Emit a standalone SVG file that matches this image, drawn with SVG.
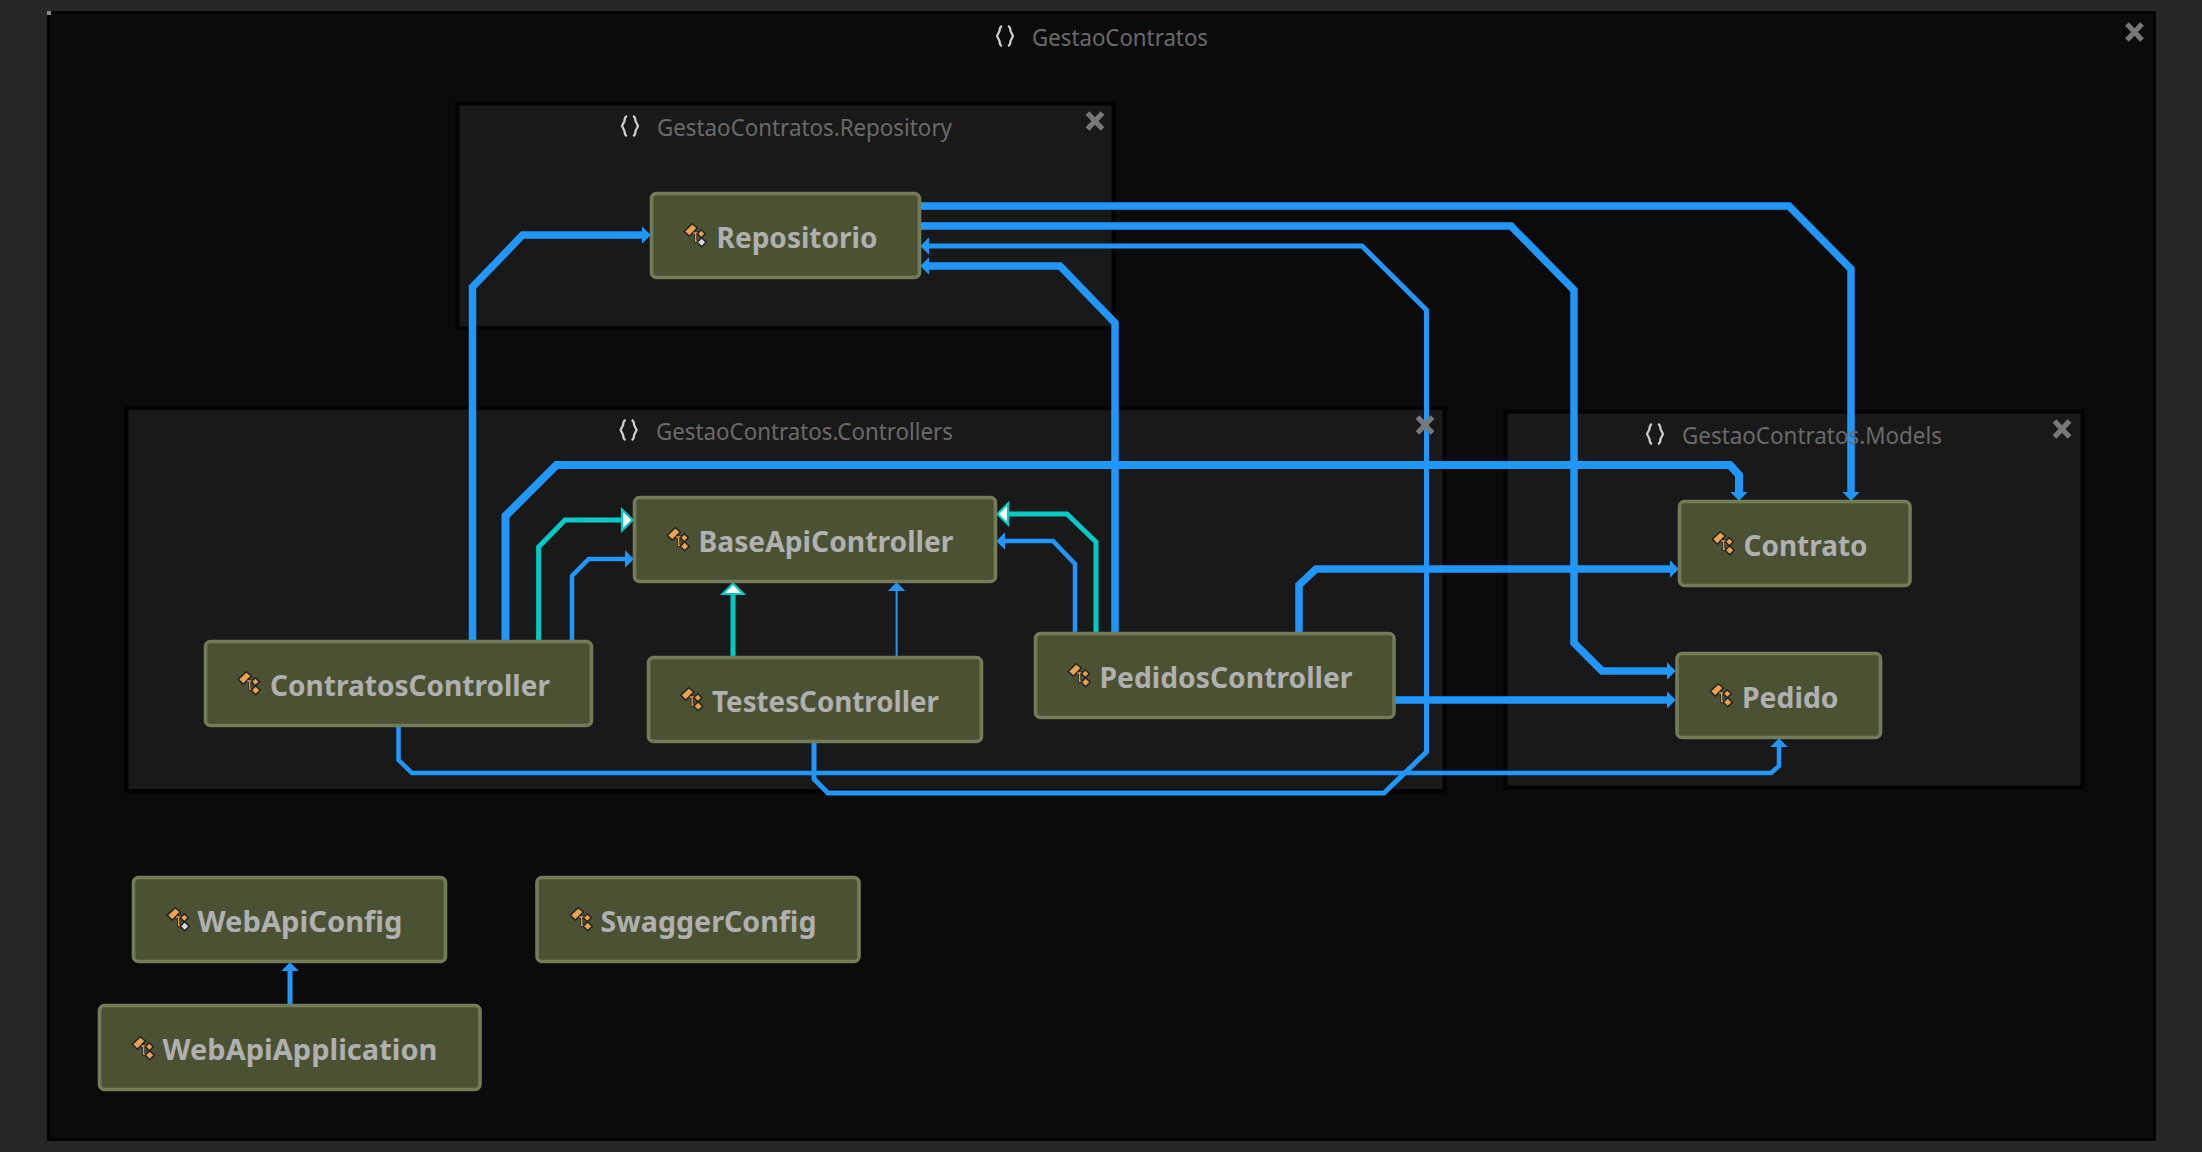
<svg xmlns="http://www.w3.org/2000/svg" width="2202" height="1152" viewBox="0 0 2202 1152">
<style>
.grp{fill:#191919;stroke:#030303;stroke-width:4}
.gl{font-family:"Noto Sans","Open Sans",sans-serif;font-size:24px;fill:#6a6a6a}
.brace{fill:none;stroke:#d0d0d0;stroke-width:2.2}
.x{fill:none;stroke:#787878;stroke-width:5.200}
.node rect{fill:#4b5233;stroke:#727c59;stroke-width:3.600}
.node text{font-family:"Noto Sans","Open Sans",sans-serif;font-size:28px;font-weight:700;fill:#b0b0b0}
.w{fill:none;stroke:#2196fb;stroke-linejoin:miter;marker-end:url(#b)}
.t{fill:none;stroke:#00c9c6;stroke-width:5;marker-end:url(#w)}
.or{fill:#eaa24e;stroke:#222;stroke-width:1.5}
.gy{fill:#d8d8d8;stroke:#222;stroke-width:1.5}
</style>
<defs>
<marker id="b" markerUnits="userSpaceOnUse" markerWidth="11" markerHeight="20" refX="0" refY="10" orient="auto" overflow="visible"><path d="M0 1.300L8.700 10L0 18.700z" fill="#2196fb"/></marker>
<marker id="w" markerUnits="userSpaceOnUse" markerWidth="14" markerHeight="26" refX="0" refY="13" orient="auto" overflow="visible"><path d="M1 2.500L11.500 13L1 23.500z" fill="#fff" stroke="#00c9c6" stroke-width="2.200"/></marker>
<path id="brace" class="brace" d="M-3 -10Q-5.500 -9 -5.500 -5L-8 0L-5.500 5Q-5.500 9 -3 10M3 -10Q5.500 -9 5.500 -5L8 0L5.500 5Q5.500 9 3 10"/>
<path id="close" class="x" d="M-7.500 -8L7.500 8M7.500 -8L-7.500 8"/>
<g id="ic-base">
<path d="M8.300 -0.300L13.300 4L5.300 12.300L0.300 7.300z" class="or"/>
<path d="M9.300 9H14.300M11.700 9V17.300H15.300" fill="none" stroke="#222" stroke-width="2.800"/>
<path d="M9.300 9H14.300M11.700 9V17.300H15.300" fill="none" stroke="#eaa24e" stroke-width="1.300"/>
<path d="M17.300 5.700L21.300 9.700L17.300 13.700L13.300 9.700z" class="or"/>
</g>
<g id="ic"><use href="#ic-base"/><path d="M17.700 13.800L22.200 18.300L17.700 22.800L13.200 18.300z" class="or"/></g>
<g id="ic2"><use href="#ic-base"/><path d="M17.700 13.800L22.200 18.300L17.700 22.800L13.200 18.300z" class="gy"/></g>
</defs>
<rect width="2202" height="1152" fill="#272727"/>
<rect id="frame" x="48.500" y="12.500" width="2106" height="1127" fill="#0b0b0b" stroke="#020202" stroke-width="3"/>
<rect x="47" y="11" width="4" height="4" fill="#8a8a8a"/>
<g id="groups">
<rect id="grp-repository" class="grp" x="457.500" y="103.500" width="656" height="224.500"/>
<rect id="grp-controllers" class="grp" x="126.500" y="408" width="1318" height="383"/>
<rect id="grp-models" class="grp" x="1505.500" y="411.500" width="577" height="376"/>
</g>
<g id="connectors">
<path class="w" stroke-width="5" d="M814 743V779L828 793H1384L1426.500 752V310L1362 246H929"/>
<path class="w" stroke-width="4.500" d="M398.500 727V760L412 773H1771L1779 766V747"/>
<path class="w" stroke-width="7.500" d="M1115 632V323L1060 266H929"/>
<path class="w" stroke-width="7.500" d="M921 206H1789L1851 269V492"/>
<path class="w" stroke-width="7.500" d="M921 226H1511L1574 290V643L1602 671H1667"/>
<path class="w" stroke-width="7.500" d="M472.500 640V287L522.600 235H642"/>
<path class="w" stroke-width="8" d="M505.500 640V516L556.500 465H1730L1739 475V492"/>
<path class="t" d="M538.600 640V547L565 520H621"/>
<path class="w" stroke-width="4.500" d="M572 640V576L588.600 559H625"/>
<path class="t" d="M733 656V595"/>
<path class="w" stroke-width="2" d="M896.600 656V591"/>
<path class="w" stroke-width="4.500" d="M1075 632V564L1053 541H1005"/>
<path class="t" d="M1096 632V542L1067 514H1009"/>
<path class="w" stroke-width="7.500" d="M1299 632V585L1316 569H1670"/>
<path class="w" stroke-width="7.500" d="M1395 700H1667"/>
<path class="w" stroke-width="5" d="M290 1004V971"/>
</g>
<g id="group-headers">
<g id="hdr-root"><use href="#brace" x="1005" y="36"/><text class="gl" x="1032" y="46" textLength="176" lengthAdjust="spacingAndGlyphs">GestaoContratos</text><use href="#close" x="2134.500" y="32"/></g>
<g id="hdr-repository"><use href="#brace" x="630" y="126"/><text class="gl" x="657" y="136" textLength="295" lengthAdjust="spacingAndGlyphs">GestaoContratos.Repository</text><use href="#close" x="1095" y="121"/></g>
<g id="hdr-controllers"><use href="#brace" x="628.600" y="430"/><text class="gl" x="656" y="440" textLength="297" lengthAdjust="spacingAndGlyphs">GestaoContratos.Controllers</text><use href="#close" x="1425" y="425"/></g>
<g id="hdr-models"><use href="#brace" x="1655" y="434"/><text class="gl" x="1682" y="444" textLength="260" lengthAdjust="spacingAndGlyphs">GestaoContratos.Models</text><use href="#close" x="2062" y="429"/></g>
</g>
<g id="node-repositorio" class="node"><rect x="651.500" y="193.500" width="268" height="84" rx="5"/><use href="#ic2" x="684" y="224"/><text x="716.500" y="248" textLength="161" lengthAdjust="spacingAndGlyphs">Repositorio</text></g>
<g id="node-contratoscontroller" class="node"><rect x="205.500" y="641.500" width="386" height="84" rx="5"/><use href="#ic" x="238" y="672"/><text x="270" y="696" textLength="280" lengthAdjust="spacingAndGlyphs">ContratosController</text></g>
<g id="node-baseapicontroller" class="node"><rect x="634.500" y="497.500" width="361" height="84" rx="5"/><use href="#ic" x="667" y="528"/><text x="698.500" y="552" textLength="255" lengthAdjust="spacingAndGlyphs">BaseApiController</text></g>
<g id="node-testescontroller" class="node"><rect x="648.500" y="657.500" width="333" height="84" rx="5"/><use href="#ic" x="680.500" y="688"/><text x="712" y="712" textLength="227" lengthAdjust="spacingAndGlyphs">TestesController</text></g>
<g id="node-pedidoscontroller" class="node"><rect x="1035.500" y="633.500" width="358.500" height="84" rx="5"/><use href="#ic" x="1068" y="664"/><text x="1099.500" y="688" textLength="253" lengthAdjust="spacingAndGlyphs">PedidosController</text></g>
<g id="node-contrato" class="node"><rect x="1679.500" y="501.500" width="230.500" height="84" rx="5"/><use href="#ic" x="1712" y="532"/><text x="1743.500" y="556" textLength="124" lengthAdjust="spacingAndGlyphs">Contrato</text></g>
<g id="node-pedido" class="node"><rect x="1677" y="653.500" width="203.500" height="84" rx="5"/><use href="#ic" x="1710" y="684"/><text x="1742" y="708" textLength="96.500" lengthAdjust="spacingAndGlyphs">Pedido</text></g>
<g id="node-webapiconfig" class="node"><rect x="133.500" y="877.500" width="312" height="84" rx="5"/><use href="#ic2" x="167" y="908"/><text x="197.500" y="932" textLength="205" lengthAdjust="spacingAndGlyphs">WebApiConfig</text></g>
<g id="node-swaggerconfig" class="node"><rect x="537" y="877.500" width="322" height="84" rx="5"/><use href="#ic" x="570" y="908"/><text x="600.500" y="932" textLength="216" lengthAdjust="spacingAndGlyphs">SwaggerConfig</text></g>
<g id="node-webapiapplication" class="node"><rect x="99.500" y="1005.500" width="380.500" height="84" rx="5"/><use href="#ic" x="132" y="1037"/><text x="162.500" y="1060" textLength="275" lengthAdjust="spacingAndGlyphs">WebApiApplication</text></g>
</svg>
